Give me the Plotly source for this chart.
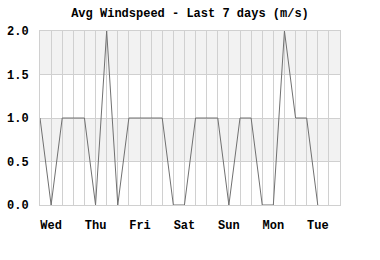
import plotly.graph_objects as go

# 6-hourly samples over the last 7 days (index 0..27)
windspeed = [1, 0, 1, 1, 1, 0, 2, 0, 1, 1, 1, 1, 0, 0,
             1, 1, 1, 0, 1, 1, 0, 0, 2, 1, 1, 0, None, None]
x_index = list(range(len(windspeed)))
day_labels = ["Wed", "Thu", "Fri", "Sat", "Sun", "Mon", "Tue"]
day_label_pos = [1, 5, 9, 13, 17, 21, 25]
y_ticks = [0.0, 0.5, 1.0, 1.5, 2.0]
bands = [(0.5, 1.0), (1.5, 2.0)]

FONT = "Liberation Mono, Courier New, monospace"
GRID = "#d0d0d0"

fig = go.Figure()
fig.add_trace(go.Scatter(
    x=x_index, y=windspeed, mode="lines",
    line=dict(color="#707070", width=1),
    connectgaps=False, hoverinfo="skip",
))

for y0, y1 in bands:
    fig.add_shape(type="rect", xref="paper", yref="y", x0=0, x1=1, y0=y0, y1=y1,
                  fillcolor="#f2f2f2", line=dict(width=0), layer="below")

fig.update_layout(
    width=380, height=260,
    margin=dict(l=40, r=40, t=31, b=55),
    paper_bgcolor="white", plot_bgcolor="white",
    showlegend=False,
    title=dict(text="Avg Windspeed - Last 7 days (m/s)",
               font=dict(family=FONT, size=12, color="black", weight="bold"),
               x=0.5, xanchor="center", y=1 - 13 / 260, yanchor="middle",
               xref="paper", automargin=False),
)
fig.update_xaxes(
    range=[0, len(windspeed) - 1], automargin=False,
    tickvals=day_label_pos, ticktext=day_labels,
    showgrid=True, gridcolor=GRID, gridwidth=1,
    minor=dict(dtick=1, tick0=0, showgrid=True, gridcolor=GRID, gridwidth=1),
    zeroline=False, showline=True, linecolor=GRID, mirror=True,
    ticks="", ticklabelstandoff=9,
    tickfont=dict(family=FONT, size=12, color="black", weight="bold"),
)
fig.update_yaxes(
    range=[0, 2], tickvals=y_ticks, tickformat=".1f", automargin=False,
    showgrid=True, gridcolor=GRID, gridwidth=1,
    zeroline=False, showline=True, linecolor=GRID, mirror=True,
    ticks="", ticklabelstandoff=8,
    tickfont=dict(family=FONT, size=12, color="black", weight="bold"),
)

fig.write_html("out.html")
